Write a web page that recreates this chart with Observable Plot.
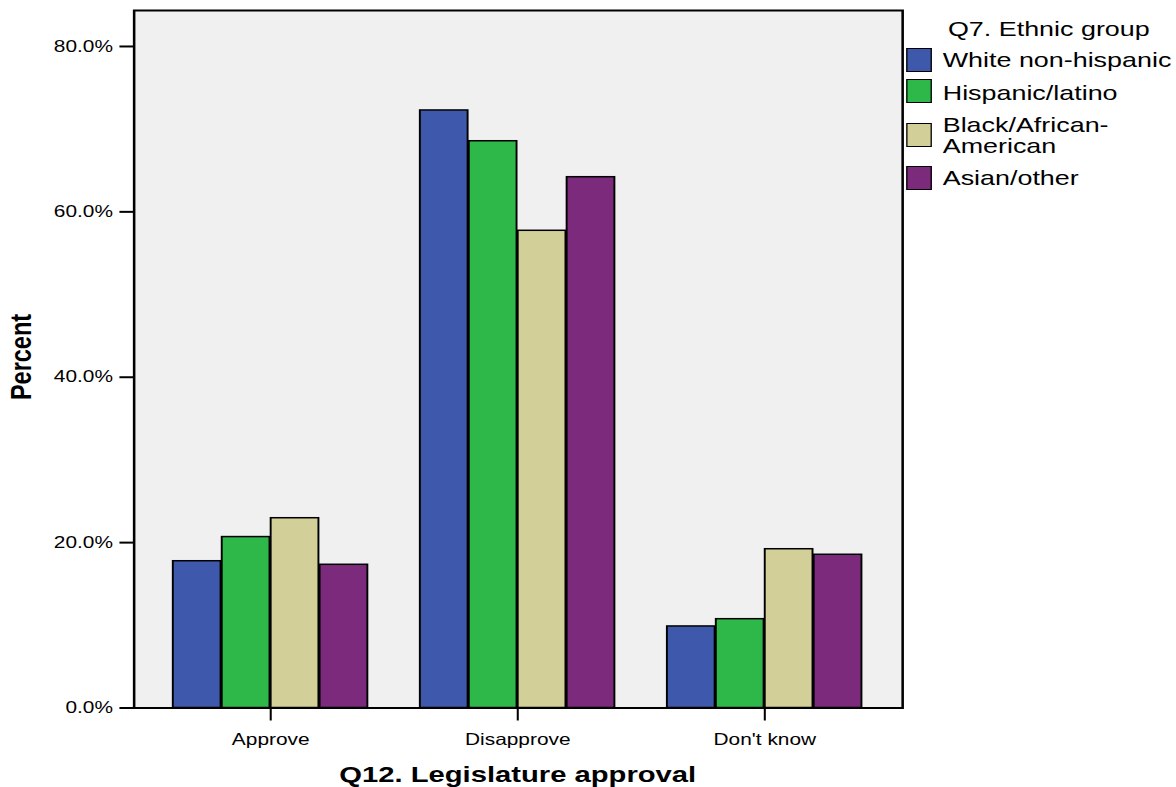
<!DOCTYPE html>
<html>
<head>
<meta charset="utf-8">
<script src="https://cdn.jsdelivr.net/npm/d3@7"></script>
<script src="https://cdn.jsdelivr.net/npm/@observablehq/plot@0.6"></script>
<style>
  html, body { margin: 0; padding: 0; background: white; }
  #wrap { position: relative; width: 918.75px; height: 787px; transform: scaleX(1.28); transform-origin: 0 0;
          font-family: "Liberation Sans", Arial, sans-serif; color: black; }
  #wrap svg { position: absolute; left: 0; top: 0; }
  .abs { position: absolute; white-space: nowrap; }
  .leg { font-size: 21px; line-height: 21.3px; }
  .sw { position: absolute; width: 20.5px; height: 24px; box-sizing: border-box; border: 1.5px solid black; }
</style>
</head>
<body>
<div id="wrap"></div>
<script>
const categories = ["Approve", "Disapprove", "Don't know"];
const groups = ["White non-hispanic", "Hispanic/latino", "Black/African-American", "Asian/other"];
const whiteNonHispanic = [17.75, 72.26, 9.86];
const hispanicLatino = [20.67, 68.54, 10.74];
const blackAfricanAmerican = [22.95, 57.71, 19.20];
const asianOther = [17.32, 64.19, 18.53];
const yTicks = [0, 20, 40, 60, 80];
const colors = ["#3e58ab", "#2fb84a", "#d3cf98", "#7b2a7c"];
const xTitle = "Q12. Legislature approval";
const yTitle = "Percent";
const legendTitle = "Q7. Ethnic group";

const series = [whiteNonHispanic, hispanicLatino, blackAfricanAmerican, asianOther];
const data = categories.flatMap((c, i) => groups.map((g, j) => ({category: c, group: g, value: series[j][i]})));

const W = 918.75, H = 787, ML = 104.3, MR = 214.05, MT = 10, MB = 79.5;
const xOpts = {type: "band", domain: categories, paddingInner: 0.21, paddingOuter: 0.156, range: [ML, W - MR]};
const bw = Plot.scale({x: xOpts}).bandwidth;
const sub = bw / groups.length;

const chart = Plot.plot({
  width: W, height: H,
  marginLeft: ML, marginRight: MR, marginTop: MT, marginBottom: MB,
  style: {fontFamily: "Liberation Sans, Arial, sans-serif", fontSize: "16.3px", color: "black", background: "transparent", overflow: "visible"},
  x: {domain: categories, paddingInner: 0.21, paddingOuter: 0.156, label: null},
  y: {domain: [0, 84.35], label: null},
  color: {domain: groups, range: colors},
  marks: [
    Plot.frame({fill: "#f0f0f0"}),
    ...groups.map((g, j) => Plot.barY(data.filter(d => d.group === g), {
      x: "category", y: "value", fill: "group", stroke: "black", strokeWidth: 1.5,
      insetLeft: j * sub, insetRight: (groups.length - 1 - j) * sub
    })),
    Plot.axisY({ticks: yTicks, tickFormat: d => d.toFixed(1) + "%", tickSize: 11, tickPadding: 5.5, strokeWidth: 2, label: null}),
    Plot.axisX({anchor: "bottom", tickSize: 13, tickPadding: 12, strokeWidth: 1.6, label: null}),
    Plot.frame({stroke: "black", strokeWidth: 2})
  ]
});

const wrap = document.getElementById("wrap");
wrap.appendChild(chart);

function addDiv(text, css, cls) {
  const d = document.createElement("div");
  d.className = cls || "abs";
  d.innerHTML = text;
  Object.assign(d.style, css);
  wrap.appendChild(d);
  return d;
}

// axis titles
addDiv(xTitle, {left: "404.5px", top: "762.7px", transform: "translateX(-50%)", fontSize: "22.8px", lineHeight: "22.8px", fontWeight: "bold"});
addDiv(yTitle, {left: "17.2px", top: "356.5px", transform: "translate(-50%,-50%) rotate(-90deg)", fontSize: "23.5px", lineHeight: "23.5px", fontWeight: "bold"});

// legend
addDiv(legendTitle, {left: "740.6px", top: "18.2px", fontSize: "21px", lineHeight: "21px"});
const swTops = [47.7, 79, 123, 165.7];
const labTops = [48.8, 82.1, 114.1, 167.1];
const labels = ["White non-hispanic", "Hispanic/latino", "Black/African-<br>American", "Asian/other"];
groups.forEach((g, i) => {
  const s = document.createElement("div");
  s.className = "sw";
  s.style.left = "707.8px";
  s.style.top = swTops[i] + "px";
  s.style.background = colors[i];
  wrap.appendChild(s);
  addDiv(labels[i], {left: "736.5px", top: labTops[i] + "px"}, "abs leg");
});
</script>
</body>
</html>
